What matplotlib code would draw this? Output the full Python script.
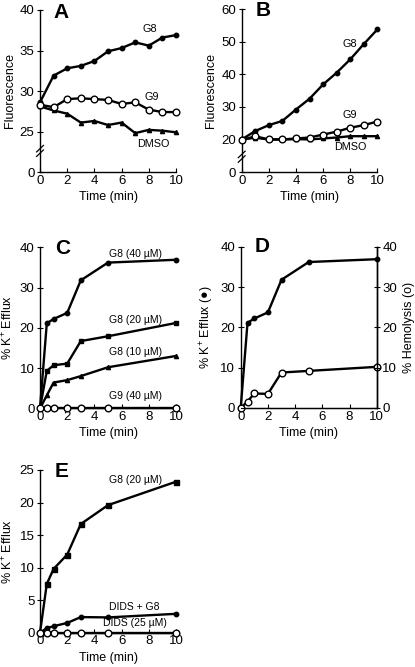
import matplotlib
matplotlib.use("Agg")
import matplotlib.pyplot as plt

plt.rcParams['font.family'] = ['Liberation Sans', 'DejaVu Sans']
plt.rcParams['mathtext.fontset'] = 'custom'
plt.rcParams['mathtext.rm'] = 'Liberation Sans'

# ---- data ----
t_fluor = [0, 1, 2, 3, 4, 5, 6, 7, 8, 9, 10]
a_g8 = [28.6, 31.9, 32.8, 33.1, 33.7, 34.9, 35.3, 36.0, 35.6, 36.6, 36.9]
a_g9 = [28.3, 28.0, 29.0, 29.1, 29.0, 28.9, 28.4, 28.6, 27.7, 27.4, 27.4]
a_dmso = [28.1, 27.6, 27.2, 26.1, 26.3, 25.8, 26.1, 24.8, 25.2, 25.1, 24.9]

b_g8 = [20.0, 22.6, 24.4, 25.7, 29.2, 32.5, 36.9, 40.5, 44.6, 49.3, 53.8]
b_g9 = [19.8, 21.0, 20.0, 20.0, 20.3, 20.6, 21.5, 22.4, 23.6, 24.4, 25.5]
b_dmso = [20.0, 20.5, 20.0, 20.0, 20.1, 20.0, 20.3, 20.6, 21.0, 21.0, 21.0]

t_eff = [0, 0.5, 1, 2, 3, 5, 10]
c_g8_40 = [0, 21.1, 22.2, 23.7, 31.8, 36.2, 36.9]
c_g8_20 = [0, 9.3, 10.7, 11.1, 16.7, 17.9, 21.2]
c_g8_10 = [0, 3.2, 6.4, 7.0, 8.0, 10.2, 13.0]
c_g9_40 = [0, 0, 0, 0, 0, 0, 0]

d_efflux = [0, 21.1, 22.2, 23.7, 31.8, 36.2, 36.9]
d_hemolysis = [0, 1.6, 3.6, 3.5, 8.8, 9.2, 10.2]

e_g8_20 = [0, 7.5, 9.8, 12.0, 16.7, 19.6, 23.2]
e_dids_g8 = [0, 0.7, 1.0, 1.5, 2.4, 2.35, 2.9]
e_dids = [0, 0, 0, 0, 0, 0, 0]

x_ticks = [0, 2, 4, 6, 8, 10]

W, H = 415, 667
fig = plt.figure(figsize=(W / 100, H / 100), dpi=100)


def make_ax(x0, y0, x1, y1):
    # pixel coords: left, top, right, bottom
    return fig.add_axes([x0 / W, 1 - y1 / H, (x1 - x0) / W, (y1 - y0) / H])


LW = 1.7
FS = 9.0
AFS = 7.8


def style(ax, right=False):
    ax.spines['top'].set_visible(False)
    if not right:
        ax.spines['right'].set_visible(False)
    for s in ax.spines.values():
        s.set_linewidth(1.0)
    ax.set_xlim(0, 10)
    ax.set_xticks(x_ticks)
    ax.tick_params(axis='x', direction='in', length=3, width=0.8, labelsize=FS + 0.5, pad=2)
    ax.tick_params(axis='y', direction='inout', length=4, width=0.8, labelsize=FS + 0.5, pad=2)
    ax.set_xlabel('Time (min)', fontsize=FS, labelpad=3)


def filled(ax, x, y, marker='o', ms=3.2):
    ax.plot(x, y, color='black', lw=LW, marker=marker, ms=ms, mfc='black',
            mec='black', clip_on=False, zorder=3)


def hollow(ax, x, y, ms=4.8):
    ax.plot(x, y, color='black', lw=LW, marker='o', ms=ms, mfc='white',
            mec='black', mew=1.0, clip_on=False, zorder=4)


def letter(ax, s, xf, yf):
    ax.text(xf, yf, s, transform=ax.transAxes, fontsize=15, fontweight='bold',
            ha='left', va='center')


def brk(ax, yv, dy):
    for off in (-dy * 0.35, dy * 0.35):
        ax.plot([-0.25, 0.25], [yv + off - dy * 0.5, yv + off + dy * 0.5],
                color='black', lw=0.9, clip_on=False, transform=ax.transData)


# ---- Panel A ----
axA = make_ax(40, 10, 176, 172)
style(axA)
axA.set_ylim(20, 40)
axA.set_yticks([20, 25, 30, 35, 40])
axA.set_yticklabels(['0', '25', '30', '35', '40'])
filled(axA, t_fluor, a_g8)
hollow(axA, t_fluor, a_g9)
filled(axA, t_fluor, a_dmso, marker='^', ms=3)
axA.set_ylabel('Fluorescence', fontsize=FS, labelpad=3)
axA.text(8.1, 37.7, 'G8', ha='center', va='center', fontsize=AFS)
axA.text(8.2, 29.3, 'G9', ha='center', va='center', fontsize=AFS)
axA.text(8.3, 23.5, 'DMSO', ha='center', va='center', fontsize=AFS)
brk(axA, 22.6, 0.8)
letter(axA, 'A', 0.1, 0.985)

# ---- Panel B ----
axB = make_ax(241.7, 9.3, 377.3, 172)
style(axB)
axB.set_ylim(10, 60)
axB.set_yticks([10, 20, 30, 40, 50, 60])
axB.set_yticklabels(['0', '20', '30', '40', '50', '60'])
filled(axB, t_fluor, b_g8)
hollow(axB, t_fluor, b_g9)
filled(axB, t_fluor, b_dmso, marker='^', ms=3)
axB.set_ylabel('Fluorescence', fontsize=FS, labelpad=3)
axB.text(8.0, 49.2, 'G8', ha='center', va='center', fontsize=AFS)
axB.text(8.0, 27.5, 'G9', ha='center', va='center', fontsize=AFS)
axB.text(8.0, 17.7, 'DMSO', ha='center', va='center', fontsize=AFS)
brk(axB, 14.7, 2.0)
letter(axB, 'B', 0.1, 0.99)

# ---- Panel C ----
axC = make_ax(40, 247.3, 176, 408.3)
style(axC)
axC.set_ylim(0, 40)
axC.set_yticks([0, 10, 20, 30, 40])
filled(axC, t_eff, c_g8_40)
filled(axC, t_eff, c_g8_20, marker='s', ms=3.2)
filled(axC, t_eff, c_g8_10, marker='^', ms=3)
hollow(axC, t_eff, c_g9_40)
axC.set_ylabel('% K$^{+}$ Efflux', fontsize=FS, labelpad=3)
axC.text(7.0, 38.3, 'G8 (40 \u00b5M)', ha='center', va='center', fontsize=AFS - 0.3)
axC.text(7.0, 21.9, 'G8 (20 \u00b5M)', ha='center', va='center', fontsize=AFS - 0.3)
axC.text(7.0, 14.0, 'G8 (10 \u00b5M)', ha='center', va='center', fontsize=AFS - 0.3)
axC.text(7.0, 3.1, 'G9 (40 \u00b5M)', ha='center', va='center', fontsize=AFS - 0.3)
letter(axC, 'C', 0.11, 0.99)

# ---- Panel D ----
axD = make_ax(240.7, 246.7, 376.7, 408)
style(axD, right=True)
axD.set_ylim(0, 40)
axD.set_yticks([0, 10, 20, 30, 40])
filled(axD, t_eff, d_efflux)
hollow(axD, t_eff, d_hemolysis)
axD.set_ylabel('% K$^{+}$ Efflux (\u25cf)', fontsize=FS, labelpad=3)
axD2 = axD.twinx()
axD2.set_ylim(0, 40)
axD2.set_yticks([0, 10, 20, 30, 40])
axD2.spines['top'].set_visible(False)
axD2.spines['left'].set_visible(False)
axD2.spines['right'].set_linewidth(1.0)
axD2.tick_params(axis='y', direction='inout', length=4, width=0.8, labelsize=FS + 0.5, pad=2)
axD2.set_ylabel('% Hemolysis (o)', fontsize=FS, labelpad=4)
letter(axD, 'D', 0.1, 1.0)

# ---- Panel E ----
axE = make_ax(40, 470, 176, 632.7)
style(axE)
axE.set_ylim(0, 25)
axE.set_yticks([0, 5, 10, 15, 20, 25])
filled(axE, t_eff, e_g8_20, marker='s', ms=3.6)
filled(axE, t_eff, e_dids_g8)
hollow(axE, t_eff, e_dids)
axE.set_ylabel('% K$^{+}$ Efflux', fontsize=FS, labelpad=3)
axE.text(7.0, 23.5, 'G8 (20 \u00b5M)', ha='center', va='center', fontsize=AFS - 0.3)
axE.text(6.9, 4.0, 'DIDS + G8', ha='center', va='center', fontsize=AFS - 0.3)
axE.text(7.0, 1.5, 'DIDS (25 \u00b5M)', ha='center', va='center', fontsize=AFS - 0.3)
letter(axE, 'E', 0.11, 0.99)

fig.savefig('out.png', dpi=100)
